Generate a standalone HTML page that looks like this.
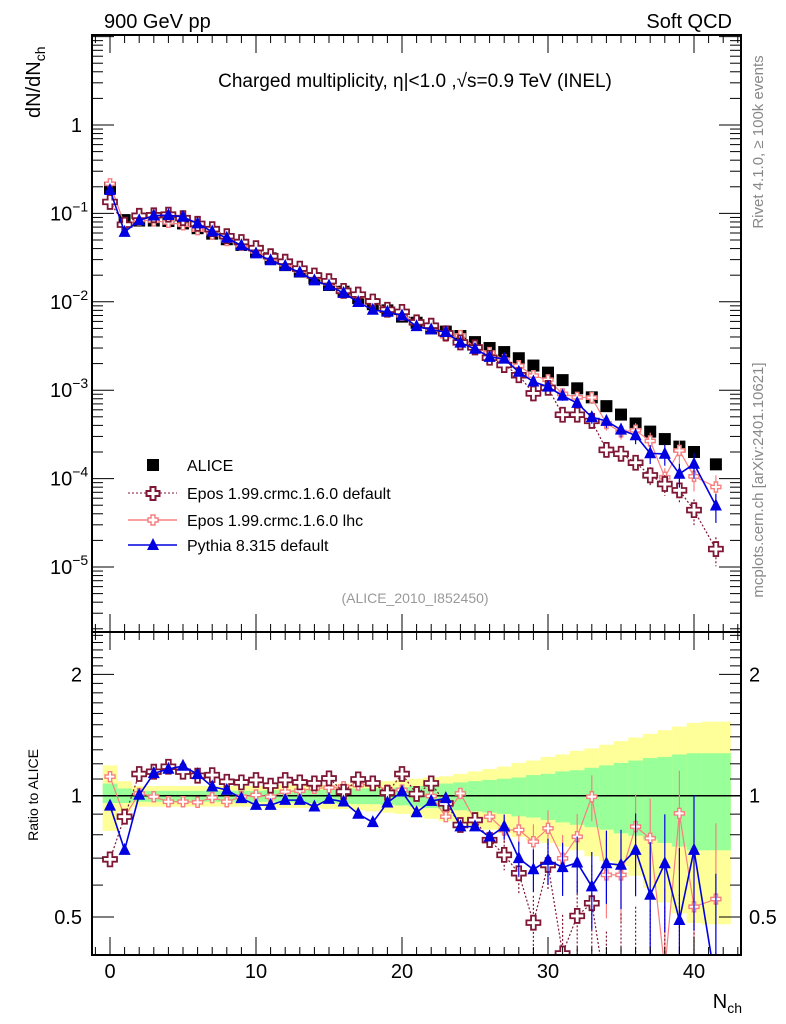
<!DOCTYPE html>
<html><head><meta charset="utf-8"><style>
html,body{margin:0;background:#fff;overflow:hidden;width:786px;height:1024px;}
svg{display:block;font-family:"Liberation Sans",sans-serif;}
</style></head><body>
<svg id="c" width="786" height="1024" viewBox="0 0 786 1024" xmlns="http://www.w3.org/2000/svg">
<defs>
<clipPath id="cm"><rect x="92" y="35" width="649" height="597"/></clipPath>
<clipPath id="cr"><rect x="92" y="632" width="649" height="323"/></clipPath>
</defs>
<text x="104" y="28" font-size="20">900 GeV pp</text>
<text x="732" y="28" font-size="20" text-anchor="end">Soft QCD</text>
<text x="415" y="87" font-size="19" text-anchor="middle">Charged multiplicity, η|&lt;1.0 ,√s=0.9 TeV (INEL)</text>
<text transform="translate(40,118) rotate(-90)" font-size="20">dN/dN<tspan font-size="14" dy="5">ch</tspan></text>
<text transform="translate(38,795) rotate(-90)" font-size="14" text-anchor="middle">Ratio to ALICE</text>
<text x="742" y="1008" font-size="20" text-anchor="end">N<tspan font-size="14" dy="5">ch</tspan></text>
<text transform="translate(763,142) rotate(-90)" font-size="15" fill="#888" text-anchor="middle">Rivet 4.1.0, ≥ 100k events</text>
<text transform="translate(763,480) rotate(-90)" font-size="15" fill="#888" text-anchor="middle">mcplots.cern.ch [arXiv:2401.10621]</text>
<text x="415" y="603" font-size="14" fill="#999" text-anchor="middle">(ALICE_2010_I852450)</text>
<g id="bands"></g><g id="marks"></g><g id="axes"></g>
<g id="legend">
<rect x="147" y="459" width="12" height="12" fill="#000"/>
<text x="187" y="471" font-size="16">ALICE</text>
<line x1="128" y1="493" x2="177" y2="493" stroke="#7f1734" stroke-dasharray="2,2"/>
<path d="M150.5,487h5v4h4v5h-4v4h-5v-4h-4v-5h4z" fill="#fff" stroke="#7f1734" stroke-width="2"/>
<text x="187" y="499" font-size="16">Epos 1.99.crmc.1.6.0 default</text>
<line x1="128" y1="520" x2="177" y2="520" stroke="#f88080" stroke-width="1.5"/>
<path d="M151,515h4v3h3v4h-3v3h-4v-3h-3v-4h3z" fill="#fff" stroke="#f88080" stroke-width="1.5"/>
<text x="187" y="526" font-size="16">Epos 1.99.crmc.1.6.0 lhc</text>
<line x1="128" y1="545" x2="177" y2="545" stroke="#0000e0" stroke-width="1.6"/>
<path d="M153,538L159,550L147,550z" fill="#0000e0"/>
<text x="187" y="551" font-size="16">Pythia 8.315 default</text>
</g>
</svg>
<script>
var nch=[0,1,2,3,4,5,6,7,8,9,10,11,12,13,14,15,16,17,18,19,20,21,22,23,24,25,26,27,28,29,30,31,32,33,34,35,36,37,38,39,40,41.5];
var alice=[0.194,0.084,0.083,0.083,0.082,0.077,0.068,0.059,0.051,0.044,0.037,0.031,0.026,0.022,0.0185,0.0155,0.013,0.011,0.0094,0.008,0.0068,0.0058,0.005,0.0046,0.0041,0.0035,0.003,0.0027,0.0023,0.0019,0.00158,0.0013,0.00105,0.00083,0.00066,0.00053,0.00042,0.00034,0.00028,0.00023,0.0002,0.000145];
var eposDefRatio=[0.695,0.887,1.132,1.147,1.18,1.147,1.121,1.125,1.083,1.079,1.094,1.059,1.094,1.079,1.073,1.104,1.023,1.098,1.073,1.017,1.132,1.01,1.073,0.957,0.846,0.87,0.776,0.713,0.642,0.484,0.673,0.406,0.503,0.541,0.32,0.36,0.36,0.32,0.31,0.32,0.22,0.11];
var eposLhcRatio=[1.115,0.887,1.013,0.994,0.966,0.966,0.963,0.989,0.966,0.994,1.004,0.994,1.023,1.029,1.043,1.047,1.053,1.063,1.069,1.033,1.033,1.004,0.998,0.887,1.013,0.87,0.887,0.822,0.822,0.769,0.83,0.699,0.791,0.994,0.636,0.636,0.838,0.784,0.37,0.904,0.53,0.554];
var pythiaRatio=[0.944,0.733,1.004,1.136,1.165,1.185,1.13,1.053,1.033,0.985,0.948,0.948,0.975,0.975,0.939,0.981,0.966,0.901,0.859,0.961,1.023,0.909,0.97,0.985,0.838,0.838,0.791,0.838,0.699,0.656,0.692,0.664,0.682,0.595,0.679,0.673,0.733,0.567,0.679,0.491,0.733,0.34];
var mcErr=[0.01,0.01,0.01,0.01,0.01,0.01,0.01,0.01,0.01,0.01,0.01,0.01,0.01,0.01,0.01,0.01,0.01,0.015,0.015,0.015,0.02,0.02,0.02,0.02,0.03,0.04,0.05,0.06,0.07,0.08,0.09,0.1,0.11,0.13,0.14,0.15,0.17,0.2,0.22,0.25,0.27,0.3];
var yellowUp=[0.25,0.12,0.08,0.08,0.08,0.08,0.08,0.08,0.08,0.08,0.08,0.09,0.09,0.09,0.09,0.09,0.1,0.1,0.11,0.12,0.13,0.14,0.15,0.16,0.18,0.2,0.22,0.24,0.27,0.29,0.32,0.34,0.37,0.39,0.42,0.45,0.48,0.51,0.54,0.57,0.6,0.61];
var yellowDown=[0.29,0.13,0.09,0.09,0.09,0.09,0.09,0.09,0.09,0.09,0.09,0.1,0.1,0.1,0.1,0.11,0.11,0.12,0.13,0.14,0.15,0.17,0.19,0.21,0.23,0.26,0.28,0.31,0.34,0.37,0.39,0.42,0.45,0.5,0.54,0.58,0.66,0.76,0.88,0.97,1.05,1.06];
var greenUp=[0.1,0.06,0.04,0.04,0.04,0.04,0.04,0.04,0.04,0.04,0.04,0.045,0.045,0.05,0.05,0.05,0.055,0.06,0.06,0.065,0.07,0.08,0.09,0.1,0.11,0.12,0.13,0.14,0.15,0.17,0.18,0.2,0.21,0.23,0.25,0.27,0.29,0.31,0.32,0.34,0.35,0.35];
var greenDown=[0.06,0.06,0.05,0.05,0.05,0.05,0.05,0.05,0.05,0.05,0.05,0.05,0.055,0.055,0.06,0.06,0.065,0.07,0.07,0.075,0.08,0.09,0.1,0.11,0.12,0.13,0.14,0.15,0.17,0.18,0.2,0.22,0.24,0.26,0.28,0.31,0.33,0.36,0.39,0.42,0.45,0.45];
var xTicks=[0,10,20,30,40];
var ratioTicks=[0.4,0.5,0.6,0.7,0.8,0.9,1,1.1,1.2,1.3,1.4,1.5,1.6,1.7,1.8,1.9,2,2.1,2.2,2.3,2.4,2.5];

var SVGNS='http://www.w3.org/2000/svg';
var PL=92,PR=741,PT=35,PMB=632,PRB=955;
function sx(v){return 110+v*14.6;}
function sy(v){return 125-88.4*Math.log(v)/Math.LN10;}
function ry(v){return 795.7-121.3*Math.log(v)/Math.LN2;}
function mk(tag,at,parent){var e=document.createElementNS(SVGNS,tag);for(var k in at){e.setAttribute(k,String(at[k]));}parent.appendChild(e);return e;}
var gBands=document.getElementById('bands'),gMarks=document.getElementById('marks'),gAxes=document.getElementById('axes');
function clampR(y){return Math.max(PMB,Math.min(PRB,y));}

try{
for(var i=0;i<nch.length;i++){
  var n=nch[i];
  var lo=(i===nch.length-1)?40.5:n-0.5, hi=(i===nch.length-1)?42.5:n+0.5;
  var y1=clampR(ry(Math.pow(2,yellowUp[i]))), y2=clampR(ry(Math.pow(2,-yellowDown[i])));
  var yb=mk('rect',{x:sx(lo),width:sx(hi)-sx(lo)+0.3,y:y1,height:Math.abs(y2-y1),fill:'#ffff99'},gBands);
  
  
  var g1=ry(Math.pow(2,greenUp[i])), g2=ry(Math.pow(2,-greenDown[i]));
  var gb=mk('rect',{x:sx(lo),width:sx(hi)-sx(lo)+0.3,y:g1,height:Math.abs(g2-g1),fill:'#99ff99'},gBands);
  
  
}
var refl=mk('line',{x1:PL,x2:PR,y1:ry(1),y2:ry(1),stroke:'#000','stroke-width':1.5},gBands);


}catch(err){}

function plusPath(x,y,s){
  var a=s/3,b=s/2,c=b-a/2;
  return 'M'+(x-a/2)+','+(y-b)+'h'+a+'v'+c+'h'+c+'v'+a+'h'+(-c)+'v'+c+'h'+(-a)+'v'+(-c)+'h'+(-c)+'v'+(-a)+'h'+c+'z';
}
function triPath(x,y,s){return 'M'+x+','+(y-s*0.6)+'L'+(x+s/2)+','+(y+s*0.4)+'L'+(x-s/2)+','+(y+s*0.4)+'z';}

try{
var ag=mk('g',{'clip-path':'url(#cm)'},gMarks);


for(var j=0;j<nch.length;j++){
  var r=mk('rect',{x:sx(nch[j])-6,y:sy(alice[j])-6,width:12,height:12,fill:'#000'},ag);
  
  
}
}catch(err){}

function drawSeries(ratio,col,dash,kind,size,name){
  var panels=['main','ratio'];
  for(var p=0;p<2;p++){
    var panel=panels[p];
    var g=mk('g',{'clip-path':panel==='main'?'url(#cm)':'url(#cr)'},gMarks);
    
    
    var yv=function(i){return panel==='main'?sy(alice[i]*ratio[i]):ry(ratio[i]);};
    var ye=function(i,s){return panel==='main'?sy(alice[i]*ratio[i]*Math.max(0.05,1+s*mcErr[i]*1.2)):ry(Math.max(0.05,ratio[i]+s*mcErr[i]));};
    var d='';
    for(var i=0;i<nch.length;i++){d+=(i?'L':'M')+sx(nch[i])+','+yv(i);}
    var ln=mk('path',{d:d,fill:'none',stroke:col,'stroke-width':kind==='tri'?1.6:1.2},g);
    if(dash)ln.setAttribute('stroke-dasharray','2,2');
    for(var i2=0;i2<nch.length;i2++){
      if(mcErr[i2]>0.05){
        var e=mk('line',{x1:sx(nch[i2]),x2:sx(nch[i2]),y1:ye(i2,1),y2:ye(i2,-1),stroke:col,'stroke-width':1.2},g);
        if(dash)e.setAttribute('stroke-dasharray','2,2');
      }
      var m;
      if(kind==='tri') m=mk('path',{d:triPath(sx(nch[i2]),yv(i2),12),fill:col},g);
      else m=mk('path',{d:plusPath(sx(nch[i2]),yv(i2),size),fill:'#fff',stroke:col,'stroke-width':size>12?1.8:1.4},g);
      
      
    }
  }
}
try{drawSeries(eposLhcRatio,'#f88080',false,'plus',10,'epos-lhc');}catch(err){}
try{drawSeries(eposDefRatio,'#7f1734',true,'plus',14,'epos-default');}catch(err){}
try{drawSeries(pythiaRatio,'#0000e0',false,'tri',12,'pythia');}catch(err){}

try{
var frames=[[PT,PMB],[PMB,PRB]];
for(var f=0;f<2;f++){
  var fr=mk('rect',{x:PL,y:frames[f][0],width:PR-PL,height:frames[f][1]-frames[f][0],fill:'none',stroke:'#000','stroke-width':2},gAxes);
  
  
}
for(var v=-1;v<=43;v++){
  var x=sx(v);if(x<PL||x>PR)continue;var big=(v%10===0);
  var ends=[[PT,1],[PMB,1],[PMB,-1],[PRB,-1]];
  for(var q=0;q<4;q++)mk('line',{x1:x,x2:x,y1:ends[q][0],y2:ends[q][0]+ends[q][1]*(big?18:8),stroke:'#000'},gAxes);
}
for(var t=0;t<xTicks.length;t++){
  var tx=mk('text',{x:sx(xTicks[t]),y:978,'font-size':20,'text-anchor':'middle'},gAxes);tx.textContent=String(xTicks[t]);
  
  
}
for(var ex=-6;ex<=1;ex++)for(var mm=1;mm<10;mm++){
  var yy=sy(mm*Math.pow(10,ex));if(yy<PT||yy>PMB)continue;var w=(mm===1)?22:11;
  mk('line',{x1:PL,x2:PL+w,y1:yy,y2:yy,stroke:'#000'},gAxes);
  mk('line',{x1:PR,x2:PR-w,y1:yy,y2:yy,stroke:'#000'},gAxes);
}
var yLabs=[[0,'1',''],[-1,'10','−1'],[-2,'10','−2'],[-3,'10','−3'],[-4,'10','−4'],[-5,'10','−5']];
for(var l=0;l<yLabs.length;l++){
  var s=yLabs[l][2];
  var tl=mk('text',{x:s?50:82,y:sy(Math.pow(10,yLabs[l][0]))+7,'font-size':20},gAxes);
  if(!s)tl.setAttribute('text-anchor','end');
  tl.appendChild(document.createTextNode(yLabs[l][1]));
  if(s){var ts=mk('tspan',{'font-size':14,dy:-9},tl);ts.textContent=s;}
  
  
}
for(var rt=0;rt<ratioTicks.length;rt++){
  var rv=ratioTicks[rt];var y3=ry(rv);if(y3<PMB||y3>PRB)continue;
  var bg=(rv===0.5||rv===1||rv===2);var w2=bg?22:11;
  mk('line',{x1:PL,x2:PL+w2,y1:y3,y2:y3,stroke:'#000'},gAxes);
  mk('line',{x1:PR,x2:PR-w2,y1:y3,y2:y3,stroke:'#000'},gAxes);
}
var rl=[[2,'2'],[1,'1'],[0.5,'0.5']];
for(var k2=0;k2<rl.length;k2++){
  var a=mk('text',{x:82,y:ry(rl[k2][0])+7,'font-size':20,'text-anchor':'end'},gAxes);a.textContent=rl[k2][1];
  
  
  var b=mk('text',{x:749,y:ry(rl[k2][0])+7,'font-size':20},gAxes);b.textContent=rl[k2][1];
  
  
}
}catch(err){}
</script>
</body></html>
